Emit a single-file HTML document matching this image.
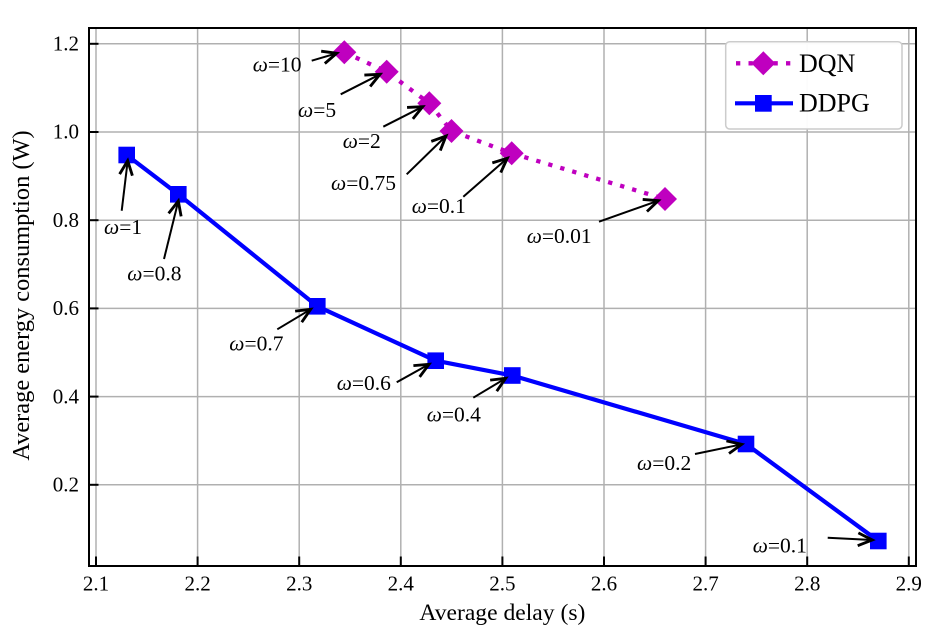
<!DOCTYPE html>
<html>
<head>
<meta charset="utf-8">
<style>
  html, body { margin: 0; padding: 0; background: #ffffff; }
  svg { display: block; font-family: "Liberation Serif", "DejaVu Serif", serif; }
  svg text { font-family: "Liberation Serif", "DejaVu Serif", serif; fill: #000; }
</style>
</head>
<body>
<svg width="936" height="641" viewBox="0 0 936 641" xmlns="http://www.w3.org/2000/svg" font-family="Liberation Serif, DejaVu Serif, serif">
  <defs>
    <marker id="ah" markerUnits="userSpaceOnUse" markerWidth="20" markerHeight="20" refX="0" refY="0" viewBox="-12 -7 14 14" orient="auto" overflow="visible">
      <path d="M -10 -4.5 L 0 0 L -10 4.5" fill="none" stroke="#000" stroke-width="2" stroke-linejoin="miter"/>
    </marker>
    <clipPath id="clip"><rect x="89" y="28" width="827" height="538"/></clipPath>
  </defs>

  <rect x="0" y="0" width="936" height="641" fill="#fff"/>

  <!-- grid -->
  <g stroke="#b0b0b0" stroke-width="1.5">
    <line x1="96" y1="28" x2="96" y2="566"/>
    <line x1="197.6" y1="28" x2="197.6" y2="566"/>
    <line x1="299.2" y1="28" x2="299.2" y2="566"/>
    <line x1="400.8" y1="28" x2="400.8" y2="566"/>
    <line x1="502.4" y1="28" x2="502.4" y2="566"/>
    <line x1="604" y1="28" x2="604" y2="566"/>
    <line x1="705.6" y1="28" x2="705.6" y2="566"/>
    <line x1="807.2" y1="28" x2="807.2" y2="566"/>
    <line x1="908.8" y1="28" x2="908.8" y2="566"/>
    <line x1="89" y1="43.8" x2="916" y2="43.8"/>
    <line x1="89" y1="132" x2="916" y2="132"/>
    <line x1="89" y1="220.2" x2="916" y2="220.2"/>
    <line x1="89" y1="308.4" x2="916" y2="308.4"/>
    <line x1="89" y1="396.6" x2="916" y2="396.6"/>
    <line x1="89" y1="484.8" x2="916" y2="484.8"/>
  </g>

  <g clip-path="url(#clip)">
    <!-- DQN -->
    <polyline points="344.3,52.3 386.7,71.7 429.3,103.3 451.5,131 511.7,153.3 665,199" fill="none" stroke="#bf00bf" stroke-width="4.3" stroke-dasharray="4.3 8.2"/>
    <g fill="#bf00bf">
      <path d="M344.3,40.3 L356.3,52.3 L344.3,64.3 L332.3,52.3 Z"/>
      <path d="M386.7,59.7 L398.7,71.7 L386.7,83.7 L374.7,71.7 Z"/>
      <path d="M429.3,91.3 L441.3,103.3 L429.3,115.3 L417.3,103.3 Z"/>
      <path d="M451.5,119 L463.5,131 L451.5,143 L439.5,131 Z"/>
      <path d="M511.7,141.3 L523.7,153.3 L511.7,165.3 L499.7,153.3 Z"/>
      <path d="M665,187 L677,199 L665,211 L653,199 Z"/>
    </g>
    <!-- DDPG -->
    <polyline points="126.7,155 178.3,194.3 317.3,306.3 435.7,360.7 512.3,375.5 746,444 878.3,541" fill="none" stroke="#0000ff" stroke-width="4.2" stroke-linejoin="round"/>
    <g fill="#0000ff">
      <rect x="118.4" y="146.7" width="16.6" height="16.6"/>
      <rect x="170" y="186" width="16.6" height="16.6"/>
      <rect x="309" y="298" width="16.6" height="16.6"/>
      <rect x="427.4" y="352.4" width="16.6" height="16.6"/>
      <rect x="504" y="367.2" width="16.6" height="16.6"/>
      <rect x="737.7" y="435.7" width="16.6" height="16.6"/>
      <rect x="870" y="532.7" width="16.6" height="16.6"/>
    </g>
  </g>

  <!-- annotations arrows -->
  <g stroke="#000" stroke-width="2" fill="none" marker-end="url(#ah)">
    <line x1="311.7" y1="60.7" x2="336.7" y2="53.3"/>
    <line x1="340.7" y1="94.3" x2="380" y2="74.3"/>
    <line x1="383.3" y1="126.7" x2="422.7" y2="106.7"/>
    <line x1="406.7" y1="174.3" x2="446" y2="136"/>
    <line x1="463.3" y1="196.7" x2="507.3" y2="158.3"/>
    <line x1="599" y1="221.7" x2="658.3" y2="200.7"/>
    <line x1="121.7" y1="210.7" x2="127.7" y2="160.7"/>
    <line x1="164" y1="259" x2="178.3" y2="201"/>
    <line x1="277.3" y1="329.3" x2="310.7" y2="309.3"/>
    <line x1="396.7" y1="382.3" x2="429" y2="364.3"/>
    <line x1="473.3" y1="397.7" x2="505.7" y2="378.3"/>
    <line x1="695" y1="454" x2="741.7" y2="444.3"/>
    <line x1="827.7" y1="537.7" x2="872.3" y2="540"/>
  </g>

  <!-- annotation texts -->
  <g font-size="21.5" font-family="Liberation Serif, DejaVu Serif, serif">
    <text x="252.7" y="71.7"><tspan font-style="italic">ω</tspan>=10</text>
    <text x="298" y="117"><tspan font-style="italic">ω</tspan>=5</text>
    <text x="342.7" y="148"><tspan font-style="italic">ω</tspan>=2</text>
    <text x="331" y="190"><tspan font-style="italic">ω</tspan>=0.75</text>
    <text x="411.7" y="213"><tspan font-style="italic">ω</tspan>=0.1</text>
    <text x="526.7" y="243"><tspan font-style="italic">ω</tspan>=0.01</text>
    <text x="104" y="234"><tspan font-style="italic">ω</tspan>=1</text>
    <text x="127.3" y="280.7"><tspan font-style="italic">ω</tspan>=0.8</text>
    <text x="229.3" y="350.7"><tspan font-style="italic">ω</tspan>=0.7</text>
    <text x="336.7" y="390"><tspan font-style="italic">ω</tspan>=0.6</text>
    <text x="426.7" y="421.7"><tspan font-style="italic">ω</tspan>=0.4</text>
    <text x="637" y="470"><tspan font-style="italic">ω</tspan>=0.2</text>
    <text x="752.7" y="552.7"><tspan font-style="italic">ω</tspan>=0.1</text>
  </g>

  <!-- spines -->
  <rect x="89" y="28" width="827" height="538" fill="none" stroke="#000" stroke-width="2"/>

  <!-- ticks (inward) -->
  <g stroke="#000" stroke-width="2">
    <line x1="96" y1="566" x2="96" y2="556.5"/>
    <line x1="197.6" y1="566" x2="197.6" y2="556.5"/>
    <line x1="299.2" y1="566" x2="299.2" y2="556.5"/>
    <line x1="400.8" y1="566" x2="400.8" y2="556.5"/>
    <line x1="502.4" y1="566" x2="502.4" y2="556.5"/>
    <line x1="604" y1="566" x2="604" y2="556.5"/>
    <line x1="705.6" y1="566" x2="705.6" y2="556.5"/>
    <line x1="807.2" y1="566" x2="807.2" y2="556.5"/>
    <line x1="908.8" y1="566" x2="908.8" y2="556.5"/>
    <line x1="89" y1="43.8" x2="98.5" y2="43.8"/>
    <line x1="89" y1="132" x2="98.5" y2="132"/>
    <line x1="89" y1="220.2" x2="98.5" y2="220.2"/>
    <line x1="89" y1="308.4" x2="98.5" y2="308.4"/>
    <line x1="89" y1="396.6" x2="98.5" y2="396.6"/>
    <line x1="89" y1="484.8" x2="98.5" y2="484.8"/>
  </g>

  <!-- tick labels -->
  <g font-size="21" text-anchor="middle" font-family="Liberation Serif, DejaVu Serif, serif">
    <text x="96" y="590.5">2.1</text>
    <text x="197.6" y="590.5">2.2</text>
    <text x="299.2" y="590.5">2.3</text>
    <text x="400.8" y="590.5">2.4</text>
    <text x="502.4" y="590.5">2.5</text>
    <text x="604" y="590.5">2.6</text>
    <text x="705.6" y="590.5">2.7</text>
    <text x="807.2" y="590.5">2.8</text>
    <text x="908.8" y="590.5">2.9</text>
  </g>
  <g font-size="21" text-anchor="end" font-family="Liberation Serif, DejaVu Serif, serif">
    <text x="79" y="50.5">1.2</text>
    <text x="79" y="138.7">1.0</text>
    <text x="79" y="226.9">0.8</text>
    <text x="79" y="315.1">0.6</text>
    <text x="79" y="403.3">0.4</text>
    <text x="79" y="491.5">0.2</text>
  </g>

  <!-- axis labels -->
  <text x="502.4" y="620" font-size="23.6" text-anchor="middle" font-family="Liberation Serif, DejaVu Serif, serif">Average delay (s)</text>
  <text transform="translate(29,295.5) rotate(-90)" font-size="24.4" text-anchor="middle" font-family="Liberation Serif, DejaVu Serif, serif">Average energy consumption (W)</text>

  <!-- legend -->
  <rect x="725.7" y="41.7" width="176.3" height="87.3" rx="4" ry="4" fill="#fff" fill-opacity="0.95" stroke="#cccccc" stroke-width="1.5"/>
  <line x1="736" y1="63.3" x2="791" y2="63.3" stroke="#bf00bf" stroke-width="4.3" stroke-dasharray="4.3 8.2"/>
  <path d="M763.3,51.3 L775.3,63.3 L763.3,75.3 L751.3,63.3 Z" fill="#bf00bf"/>
  <text x="799" y="72" font-size="26" font-family="Liberation Serif, DejaVu Serif, serif">DQN</text>
  <line x1="735" y1="103.3" x2="793" y2="103.3" stroke="#0000ff" stroke-width="4.2"/>
  <rect x="755" y="95" width="16.7" height="16.7" fill="#0000ff"/>
  <text x="799" y="111.5" font-size="26" font-family="Liberation Serif, DejaVu Serif, serif">DDPG</text>
</svg>
</body>
</html>
